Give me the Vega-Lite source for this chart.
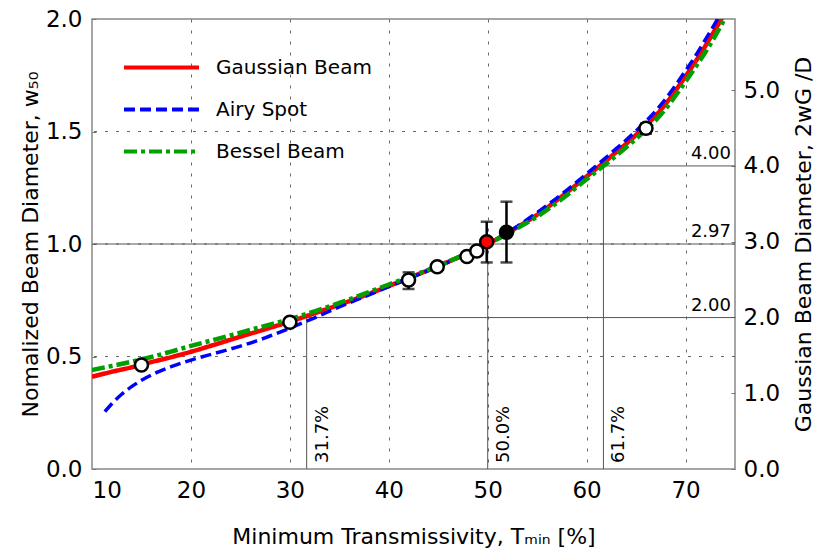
{
  "$schema": "https://vega.github.io/schema/vega-lite/v6.json",
  "width": 643,
  "height": 450,
  "autosize": {"type": "none"},
  "padding": {"left": 92, "top": 19, "right": 95, "bottom": 90},
  "datasets": {
    "curves": [
      {"s": "Gaussian Beam", "T": 10, "w": 0.41},
      {"s": "Gaussian Beam", "T": 12, "w": 0.432},
      {"s": "Gaussian Beam", "T": 14, "w": 0.452},
      {"s": "Gaussian Beam", "T": 16, "w": 0.475},
      {"s": "Gaussian Beam", "T": 18, "w": 0.497},
      {"s": "Gaussian Beam", "T": 20, "w": 0.521},
      {"s": "Gaussian Beam", "T": 22.5, "w": 0.554},
      {"s": "Gaussian Beam", "T": 25, "w": 0.588},
      {"s": "Gaussian Beam", "T": 27.5, "w": 0.621},
      {"s": "Gaussian Beam", "T": 30, "w": 0.655},
      {"s": "Gaussian Beam", "T": 32.5, "w": 0.692},
      {"s": "Gaussian Beam", "T": 35, "w": 0.73},
      {"s": "Gaussian Beam", "T": 37.5, "w": 0.77},
      {"s": "Gaussian Beam", "T": 40, "w": 0.813},
      {"s": "Gaussian Beam", "T": 42.5, "w": 0.857},
      {"s": "Gaussian Beam", "T": 45, "w": 0.902},
      {"s": "Gaussian Beam", "T": 47.5, "w": 0.95},
      {"s": "Gaussian Beam", "T": 50, "w": 1.0},
      {"s": "Gaussian Beam", "T": 52.5, "w": 1.062},
      {"s": "Gaussian Beam", "T": 55, "w": 1.13},
      {"s": "Gaussian Beam", "T": 57.5, "w": 1.212},
      {"s": "Gaussian Beam", "T": 60, "w": 1.3},
      {"s": "Gaussian Beam", "T": 62.5, "w": 1.39},
      {"s": "Gaussian Beam", "T": 65, "w": 1.485},
      {"s": "Gaussian Beam", "T": 67.5, "w": 1.596},
      {"s": "Gaussian Beam", "T": 70, "w": 1.745},
      {"s": "Gaussian Beam", "T": 71, "w": 1.81},
      {"s": "Gaussian Beam", "T": 72, "w": 1.88},
      {"s": "Gaussian Beam", "T": 73, "w": 1.953},
      {"s": "Gaussian Beam", "T": 73.7, "w": 2.005},
      {"s": "Airy Spot", "T": 11.3, "w": 0.255},
      {"s": "Airy Spot", "T": 12, "w": 0.29},
      {"s": "Airy Spot", "T": 13, "w": 0.332},
      {"s": "Airy Spot", "T": 14, "w": 0.366},
      {"s": "Airy Spot", "T": 15, "w": 0.394},
      {"s": "Airy Spot", "T": 16.5, "w": 0.428},
      {"s": "Airy Spot", "T": 18, "w": 0.455},
      {"s": "Airy Spot", "T": 20, "w": 0.484},
      {"s": "Airy Spot", "T": 22.5, "w": 0.515},
      {"s": "Airy Spot", "T": 25, "w": 0.546},
      {"s": "Airy Spot", "T": 27.5, "w": 0.583},
      {"s": "Airy Spot", "T": 30, "w": 0.626},
      {"s": "Airy Spot", "T": 32.5, "w": 0.672},
      {"s": "Airy Spot", "T": 35, "w": 0.72},
      {"s": "Airy Spot", "T": 37.5, "w": 0.765},
      {"s": "Airy Spot", "T": 40, "w": 0.81},
      {"s": "Airy Spot", "T": 42.5, "w": 0.855},
      {"s": "Airy Spot", "T": 45, "w": 0.9},
      {"s": "Airy Spot", "T": 47.5, "w": 0.948},
      {"s": "Airy Spot", "T": 50, "w": 1.0},
      {"s": "Airy Spot", "T": 52.5, "w": 1.065},
      {"s": "Airy Spot", "T": 55, "w": 1.14},
      {"s": "Airy Spot", "T": 57.5, "w": 1.222},
      {"s": "Airy Spot", "T": 60, "w": 1.312},
      {"s": "Airy Spot", "T": 62.5, "w": 1.405},
      {"s": "Airy Spot", "T": 65, "w": 1.503},
      {"s": "Airy Spot", "T": 67.5, "w": 1.618},
      {"s": "Airy Spot", "T": 70, "w": 1.77},
      {"s": "Airy Spot", "T": 71, "w": 1.836},
      {"s": "Airy Spot", "T": 72, "w": 1.908},
      {"s": "Airy Spot", "T": 73, "w": 1.982},
      {"s": "Airy Spot", "T": 73.3, "w": 2.005},
      {"s": "Bessel Beam", "T": 10, "w": 0.44},
      {"s": "Bessel Beam", "T": 12, "w": 0.458},
      {"s": "Bessel Beam", "T": 14, "w": 0.477},
      {"s": "Bessel Beam", "T": 16, "w": 0.498},
      {"s": "Bessel Beam", "T": 18, "w": 0.522},
      {"s": "Bessel Beam", "T": 20, "w": 0.547},
      {"s": "Bessel Beam", "T": 22.5, "w": 0.576},
      {"s": "Bessel Beam", "T": 25, "w": 0.606},
      {"s": "Bessel Beam", "T": 27.5, "w": 0.636},
      {"s": "Bessel Beam", "T": 30, "w": 0.666},
      {"s": "Bessel Beam", "T": 32.5, "w": 0.701},
      {"s": "Bessel Beam", "T": 35, "w": 0.738},
      {"s": "Bessel Beam", "T": 37.5, "w": 0.778},
      {"s": "Bessel Beam", "T": 40, "w": 0.82},
      {"s": "Bessel Beam", "T": 42.5, "w": 0.86},
      {"s": "Bessel Beam", "T": 45, "w": 0.903},
      {"s": "Bessel Beam", "T": 47.5, "w": 0.95},
      {"s": "Bessel Beam", "T": 50, "w": 1.0},
      {"s": "Bessel Beam", "T": 52.5, "w": 1.058},
      {"s": "Bessel Beam", "T": 55, "w": 1.122},
      {"s": "Bessel Beam", "T": 57.5, "w": 1.2},
      {"s": "Bessel Beam", "T": 60, "w": 1.288},
      {"s": "Bessel Beam", "T": 62.5, "w": 1.375},
      {"s": "Bessel Beam", "T": 65, "w": 1.468},
      {"s": "Bessel Beam", "T": 67.5, "w": 1.575},
      {"s": "Bessel Beam", "T": 70, "w": 1.722},
      {"s": "Bessel Beam", "T": 71, "w": 1.786},
      {"s": "Bessel Beam", "T": 72, "w": 1.852},
      {"s": "Bessel Beam", "T": 73, "w": 1.925},
      {"s": "Bessel Beam", "T": 74, "w": 2.005}
    ],
    "points": [
      {"T": 15, "w": 0.462, "kind": "open"},
      {"T": 30, "w": 0.652, "kind": "open"},
      {"T": 42, "w": 0.84, "kind": "open"},
      {"T": 44.9, "w": 0.899, "kind": "open"},
      {"T": 47.9, "w": 0.944, "kind": "open"},
      {"T": 48.9, "w": 0.969, "kind": "open"},
      {"T": 49.9, "w": 1.01, "kind": "red"},
      {"T": 51.9, "w": 1.052, "kind": "black"},
      {"T": 66, "w": 1.514, "kind": "open"}
    ],
    "errs": [
      {"T": 42, "lo": 0.8, "hi": 0.874},
      {"T": 49.9, "lo": 0.918, "hi": 1.099},
      {"T": 51.9, "lo": 0.918, "hi": 1.188},
      {"T": 66, "lo": 1.49, "hi": 1.535}
    ],
    "grid": [{"y": 0.5}, {"y": 1.0}, {"y": 1.5}],
    "refs": [
      {"x": 31.7, "x2": 75, "y": 0.673, "y2": 0.673},
      {"x": 10, "x2": 75, "y": 1.0, "y2": 1.0},
      {"x": 61.7, "x2": 75, "y": 1.347, "y2": 1.347},
      {"x": 31.7, "x2": 31.7, "y": 0, "y2": 0.673},
      {"x": 50, "x2": 50, "y": 0, "y2": 1.0},
      {"x": 61.7, "x2": 61.7, "y": 0, "y2": 1.347}
    ],
    "hlabels": [
      {"x": 75, "y": 0.673, "label": "2.00"},
      {"x": 75, "y": 1.0, "label": "2.97"},
      {"x": 75, "y": 1.347, "label": "4.00"}
    ],
    "vlabels": [
      {"x": 31.7, "y": 0, "label": "31.7%"},
      {"x": 50, "y": 0, "label": "50.0%"},
      {"x": 61.7, "y": 0, "label": "61.7%"}
    ],
    "right": [{"r": 0}, {"r": 5}]
  },
  "layer": [
    {
      "layer": [
        {
          "data": {"name": "grid"},
          "mark": {"type": "rule", "color": "#666666", "strokeWidth": 1, "strokeDash": [3, 8]},
          "encoding": {
            "y": {
              "field": "y", "type": "quantitative",
              "scale": {"domain": [0, 2], "nice": false},
              "axis": {
                "title": "Nomalized Beam Diameter, w₅₀",
                "values": [0, 0.5, 1.0, 1.5, 2.0],
                "format": ".1f",
                "labelOverlap": false,
                "grid": false,
                "offset": -4,
                "tickSize": 4,
                "tickColor": "#777777",
                "domain": false,
                "labelPadding": 10,
                "titlePadding": 3
              }
            }
          }
        },
        {
          "data": {"name": "refs"},
          "mark": {"type": "rule", "color": "#555555", "strokeWidth": 1},
          "encoding": {
            "x": {
              "field": "x", "type": "quantitative",
              "scale": {"domain": [10, 75], "nice": false},
              "axis": {
                "title": "Minimum Transmissivity, Tₘᵢₙ [%]",
                "values": [10, 20, 30, 40, 50, 60, 70],
                "format": "d",
                "grid": true,
                "gridDash": [3, 8],
                "gridColor": "#666666",
                "gridOpacity": {"condition": {"test": "datum.value > 10", "value": 1}, "value": 0},
                "ticks": false,
                "domain": false,
                "labelPadding": 10,
                "titlePadding": 24
              }
            },
            "x2": {"field": "x2"},
            "y": {"field": "y", "type": "quantitative", "title": "Nomalized Beam Diameter, w₅₀"},
            "y2": {"field": "y2"}
          }
        },
        {
          "data": {"name": "hlabels"},
          "mark": {"type": "text", "align": "right", "baseline": "alphabetic", "dx": -4, "dy": -7, "fontSize": 18, "color": "black"},
          "encoding": {
            "x": {"field": "x", "type": "quantitative"},
            "y": {"field": "y", "type": "quantitative", "title": "Nomalized Beam Diameter, w₅₀"},
            "text": {"field": "label"}
          }
        },
        {
          "data": {"name": "vlabels"},
          "mark": {"type": "text", "angle": 270, "align": "left", "baseline": "top", "dx": 6, "dy": 7, "fontSize": 18, "color": "black"},
          "encoding": {
            "x": {"field": "x", "type": "quantitative"},
            "y": {"field": "y", "type": "quantitative", "title": "Nomalized Beam Diameter, w₅₀"},
            "text": {"field": "label"}
          }
        },
        {
          "data": {"name": "curves"},
          "transform": [{"filter": "datum.s == 'Gaussian Beam'"}],
          "mark": {"type": "line", "strokeWidth": 4.5, "clip": true, "interpolate": "monotone"},
          "encoding": {
            "x": {"field": "T", "type": "quantitative"},
            "y": {"field": "w", "type": "quantitative", "title": "Nomalized Beam Diameter, w₅₀"},
            "color": {
              "field": "s", "type": "nominal",
              "scale": {"domain": ["Gaussian Beam", "Airy Spot", "Bessel Beam"], "range": ["#ff0000", "#0000ff", "#00a000"]},
              "legend": {"title": null}
            },
            "strokeDash": {
              "field": "s", "type": "nominal",
              "scale": {"domain": ["Gaussian Beam", "Airy Spot", "Bessel Beam"], "range": [[1, 0], [11, 5], [13, 4, 4, 4]]},
              "legend": {"title": null}
            }
          }
        },
        {
          "data": {"name": "curves"},
          "transform": [{"filter": "datum.s == 'Airy Spot'"}],
          "mark": {"type": "line", "strokeWidth": 3.5, "clip": true, "interpolate": "monotone"},
          "encoding": {
            "x": {"field": "T", "type": "quantitative"},
            "y": {"field": "w", "type": "quantitative", "title": "Nomalized Beam Diameter, w₅₀"},
            "color": {"field": "s", "type": "nominal"},
            "strokeDash": {"field": "s", "type": "nominal"}
          }
        },
        {
          "data": {"name": "curves"},
          "transform": [{"filter": "datum.s == 'Bessel Beam'"}],
          "mark": {"type": "line", "strokeWidth": 4.5, "clip": true, "interpolate": "monotone"},
          "encoding": {
            "x": {"field": "T", "type": "quantitative"},
            "y": {"field": "w", "type": "quantitative", "title": "Nomalized Beam Diameter, w₅₀"},
            "color": {"field": "s", "type": "nominal"},
            "strokeDash": {"field": "s", "type": "nominal"}
          }
        },
        {
          "data": {"name": "errs"},
          "mark": {"type": "errorbar", "color": "black", "thickness": 2.5, "ticks": {"size": 12, "thickness": 2.5, "color": "black"}},
          "encoding": {
            "x": {"field": "T", "type": "quantitative"},
            "y": {"field": "lo", "type": "quantitative", "title": "Nomalized Beam Diameter, w₅₀"},
            "y2": {"field": "hi"}
          }
        },
        {
          "data": {"name": "points"},
          "mark": {"type": "point", "shape": "circle", "filled": true, "stroke": "black", "strokeWidth": 2.5, "size": 170, "opacity": 1},
          "encoding": {
            "x": {"field": "T", "type": "quantitative"},
            "y": {"field": "w", "type": "quantitative", "title": "Nomalized Beam Diameter, w₅₀"},
            "fill": {
              "field": "kind", "type": "nominal",
              "scale": {"domain": ["open", "red", "black"], "range": ["white", "#ff0000", "black"]},
              "legend": null
            }
          }
        }
      ]
    },
    {
      "data": {"name": "right"},
      "mark": {"type": "point", "opacity": 0},
      "encoding": {
        "y": {
          "field": "r", "type": "quantitative",
          "scale": {"domain": [0, 5.94], "nice": false},
          "axis": {
            "orient": "right",
            "title": "Gaussian Beam Diameter, 2wG /D",
            "titleAngle": 270,
            "titlePadding": 36,
            "values": [0, 1, 2, 3, 4, 5],
            "format": ".1f",
            "grid": false,
            "offset": -4,
            "tickSize": 4,
            "tickColor": "#777777",
            "domain": false,
            "labelPadding": 8
          }
        }
      }
    }
  ],
  "resolve": {"scale": {"y": "independent"}},
  "config": {
    "font": "DejaVu Sans",
    "view": {"stroke": "#888888", "strokeWidth": 1.5},
    "axis": {
      "labelFontSize": 23,
      "labelColor": "black",
      "labelOverlap": false,
      "titleFontSize": 22,
      "titleFontWeight": "normal",
      "titleColor": "black"
    },
    "legend": {
      "orient": "none",
      "legendX": 55,
      "legendY": 34,
      "symbolType": "M-3,0H3",
      "symbolSize": 625,
      "symbolStrokeWidth": 4,
      "labelFontSize": 20,
      "labelColor": "black",
      "labelOffset": 40,
      "rowPadding": 17,
      "labelLimit": 300
    }
  }
}
